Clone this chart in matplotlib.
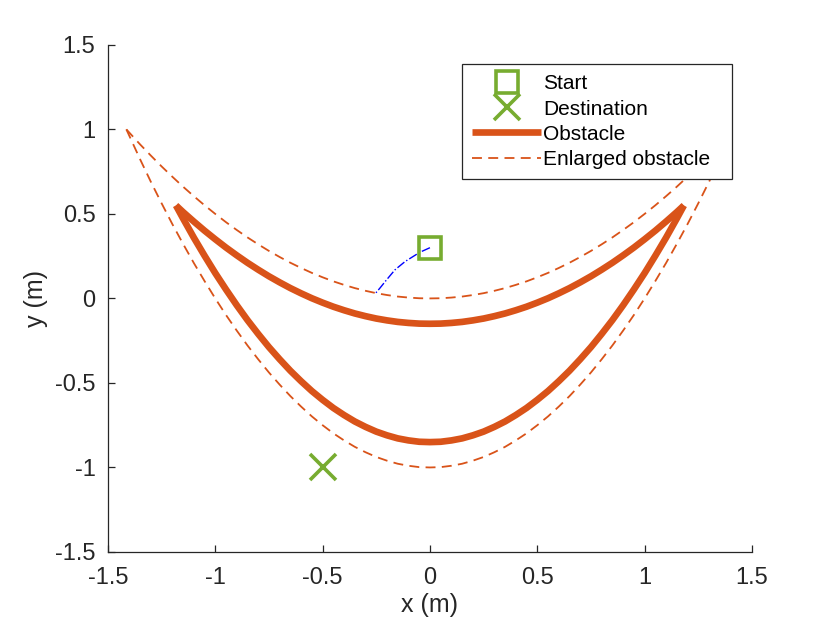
import numpy as np
import matplotlib
matplotlib.use('Agg')
import matplotlib.pyplot as plt

plt.rcParams['font.family'] = ['Liberation Sans', 'DejaVu Sans']

# obstacle outline (x in m, y in m)
obs_x = [-1.183, -1.15, -1.1, -1.05, -1.0, -0.95, -0.9, -0.85, -0.8, -0.75, -0.7, -0.65, -0.6,
         -0.55, -0.5, -0.45, -0.4, -0.35, -0.3, -0.25, -0.2, -0.15, -0.1, -0.05, 0.0,
         0.05, 0.1, 0.15, 0.2, 0.25, 0.3, 0.35, 0.4, 0.45, 0.5, 0.55, 0.6,
         0.65, 0.7, 0.75, 0.8, 0.85, 0.9, 0.95, 1.0, 1.05, 1.1, 1.15, 1.183]
obs_upper = [0.55, 0.511, 0.455, 0.401, 0.35, 0.301, 0.255, 0.211, 0.17, 0.131, 0.095, 0.061, 0.03,
             0.001, -0.025, -0.049, -0.07, -0.089, -0.105, -0.119, -0.13, -0.139, -0.145, -0.149, -0.15,
             -0.149, -0.145, -0.139, -0.13, -0.119, -0.105, -0.089, -0.07, -0.049, -0.025, 0.001, 0.03,
             0.061, 0.095, 0.131, 0.17, 0.211, 0.255, 0.301, 0.35, 0.401, 0.455, 0.511, 0.55]
obs_lower = [0.55, 0.473, 0.36, 0.253, 0.15, 0.053, -0.04, -0.128, -0.21, -0.288, -0.36, -0.428, -0.49,
             -0.548, -0.6, -0.648, -0.69, -0.728, -0.76, -0.788, -0.81, -0.828, -0.84, -0.848, -0.85,
             -0.848, -0.84, -0.828, -0.81, -0.788, -0.76, -0.728, -0.69, -0.648, -0.6, -0.548, -0.49,
             -0.428, -0.36, -0.288, -0.21, -0.128, -0.04, 0.053, 0.15, 0.253, 0.36, 0.473, 0.55]

# enlarged obstacle
enl_x = [-1.414, -1.35, -1.3, -1.25, -1.2, -1.15, -1.1, -1.05, -1.0, -0.95, -0.9, -0.85, -0.8,
         -0.75, -0.7, -0.65, -0.6, -0.55, -0.5, -0.45, -0.4, -0.35, -0.3, -0.25, -0.2, -0.15,
         -0.1, -0.05, 0.0, 0.05, 0.1, 0.15, 0.2, 0.25, 0.3, 0.35, 0.4, 0.45, 0.5, 0.55, 0.6,
         0.65, 0.7, 0.75, 0.8, 0.85, 0.9, 0.95, 1.0, 1.05, 1.1, 1.15, 1.2, 1.25, 1.3, 1.35, 1.4]
enl_upper = [1.0, 0.911, 0.845, 0.781, 0.72, 0.661, 0.605, 0.551, 0.5, 0.451, 0.405, 0.361, 0.32,
             0.281, 0.245, 0.211, 0.18, 0.151, 0.125, 0.101, 0.08, 0.061, 0.045, 0.031, 0.02, 0.011,
             0.005, 0.001, 0.0, 0.001, 0.005, 0.011, 0.02, 0.031, 0.045, 0.061, 0.08, 0.101, 0.125, 0.151, 0.18,
             0.211, 0.245, 0.281, 0.32, 0.361, 0.405, 0.451, 0.5, 0.551, 0.605, 0.661, 0.72, 0.781, 0.845, 0.911, 0.98]
enl_lower = [1.0, 0.823, 0.69, 0.563, 0.44, 0.323, 0.21, 0.103, 0.0, -0.098, -0.19, -0.278, -0.36,
             -0.438, -0.51, -0.578, -0.64, -0.698, -0.75, -0.798, -0.84, -0.878, -0.91, -0.938, -0.96, -0.978,
             -0.99, -0.998, -1.0, -0.998, -0.99, -0.978, -0.96, -0.938, -0.91, -0.878, -0.84, -0.798, -0.75, -0.698, -0.64,
             -0.578, -0.51, -0.438, -0.36, -0.278, -0.19, -0.098, 0.0, 0.103, 0.21, 0.323, 0.44, 0.563, 0.69, 0.823, 0.96]

# trajectory from the start point
traj_x = [0.0, -0.047, -0.116, -0.163, -0.202, -0.233, -0.253]
traj_y = [0.30, 0.273, 0.218, 0.169, 0.110, 0.061, 0.031]

start = (0.0, 0.3)
dest = (-0.5, -1.0)

ticks = [-1.5, -1, -0.5, 0, 0.5, 1, 1.5]
tick_labels = ['-1.5', '-1', '-0.5', '0', '0.5', '1', '1.5']

orange = '#D95319'
green = '#77AC30'
dark = '#262626'

fig = plt.figure(figsize=(8.3, 6.23), dpi=100)
ax = fig.add_axes([0.130, 0.114, 0.776, 0.814])

ax.plot(traj_x, traj_y, color='blue', linestyle='-.', linewidth=1.0)
h_start, = ax.plot(start[0], start[1], 's', color=green, markerfacecolor='none',
                   markersize=16, markeredgewidth=2.6, linestyle='none', label='Start')
h_dest, = ax.plot(dest[0], dest[1], 'x', color=green, markersize=19,
                  markeredgewidth=2.6, linestyle='none', label='Destination')
h_obs, = ax.plot(obs_x, obs_upper, color=orange, linewidth=4.8,
                 solid_capstyle='butt', label='Obstacle')
ax.plot(obs_x, obs_lower, color=orange, linewidth=4.8, solid_capstyle='butt')
h_enl, = ax.plot(enl_x, enl_upper, color=orange, linewidth=1.3,
                 dashes=(5.5, 3.5), label='Enlarged obstacle')
ax.plot(enl_x, enl_lower, color=orange, linewidth=1.3, dashes=(5.5, 3.5))

ax.set_xlim(-1.5, 1.5)
ax.set_ylim(-1.5, 1.5)
ax.set_xticks(ticks)
ax.set_yticks(ticks)
ax.set_xticklabels(tick_labels)
ax.set_yticklabels(tick_labels)

for s in ['top', 'right']:
    ax.spines[s].set_visible(False)
for s in ['left', 'bottom']:
    ax.spines[s].set_color(dark)
    ax.spines[s].set_linewidth(0.9)
ax.tick_params(direction='in', length=5, width=0.9, colors=dark, labelsize=17)
ax.tick_params(axis='x', pad=11)
ax.tick_params(axis='y', pad=9)

ax.set_xlabel('x (m)', fontsize=18, color=dark, labelpad=3)
ax.set_ylabel('y (m)', fontsize=18, color=dark, labelpad=5)

leg = ax.legend(handles=[h_start, h_dest, h_obs, h_enl], loc='upper left',
                bbox_to_anchor=(0.5497, 0.5, 0.4193, 0.4625), mode='expand',
                fontsize=15, frameon=True, fancybox=False, framealpha=1.0,
                handlelength=3.3, handletextpad=0.1, labelspacing=0.3,
                borderpad=0.5, borderaxespad=0.0)
leg.get_frame().set_edgecolor(dark)
leg.get_frame().set_linewidth(0.9)
leg.set_zorder(5)

fig.savefig('out.png', dpi=100)
